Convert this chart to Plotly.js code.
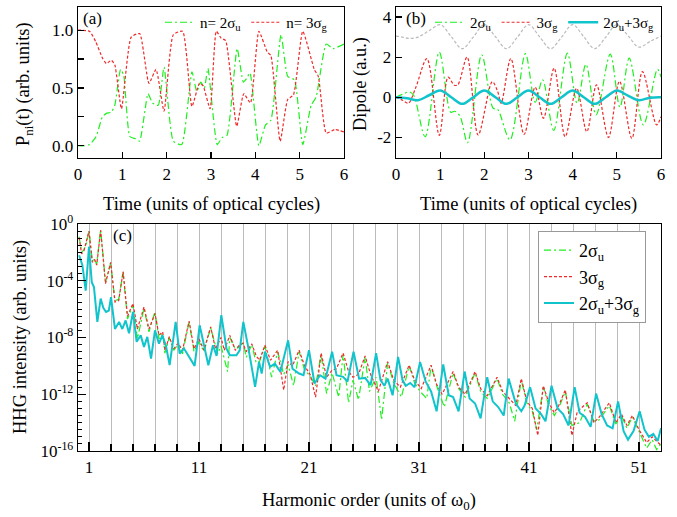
<!DOCTYPE html>
<html><head><meta charset="utf-8">
<script src="https://cdn.plot.ly/plotly-3.0.1.min.js"></script>
<style>html,body{margin:0;padding:0;background:#fff}#chart{width:677px;height:517px}</style>
</head><body><div id="chart"></div>
<script>
// ---------- Panel (a): populations ----------
const tA_2su = [0,0.15,0.26,0.41,0.55,0.64,0.75,0.83,0.96,1.03,1.17,1.3,1.39,1.58,1.68,1.81,1.94,2.15,2.34,2.57,2.68,2.77,2.85,2.93,3.14,3.25,3.36,3.59,3.73,3.8,3.88,4.08,4.23,4.35,4.58,4.73,4.88,5.07,5.26,5.37,5.6,5.75,6.0];
const pA_2su = [0,0,0.01,0.08,0.25,0.28,0.29,0.35,0.66,0.61,0.08,0.06,0.04,0.45,0.37,0.35,0.68,0.04,0.01,0.64,0.47,0.55,0.5,0.67,0.01,0.07,0.09,0.84,0.55,0.58,0.63,0.0,0.18,0.22,0.96,0.6,0.57,0.01,0.35,0.42,0.88,0.84,0.88];
const tA_3sg = [0,0.26,0.4,0.55,0.64,0.75,0.83,0.98,1.2,1.39,1.6,1.76,1.94,2.15,2.36,2.57,2.74,2.82,2.98,3.12,3.23,3.33,3.58,3.74,3.89,4.08,4.27,4.35,4.56,4.73,4.86,5.07,5.33,5.42,5.6,5.79,6.0];
const pA_3sg = [1.0,0.99,0.9,0.76,0.71,0.74,0.7,0.32,0.94,0.97,0.54,0.66,0.3,0.96,0.99,0.34,0.54,0.52,0.32,0.99,0.93,0.91,0.17,0.45,0.37,0.99,0.81,0.78,0.04,0.4,0.44,0.99,0.66,0.6,0.11,0.14,0.12];

// ---------- Panel (b): dipoles ----------
const tB_2su = [0,0.15,0.3,0.4,0.66,0.98,1.24,1.33,1.45,1.62,1.94,2.2,2.3,2.58,2.93,3.15,3.32,3.57,3.88,4.1,4.3,4.53,4.85,5.07,5.28,5.6,5.92,6.0];
const dB_2su = [0,0.15,0.27,0.1,-1.97,2.25,-0.75,-0.7,-0.95,-2.27,2.12,-0.55,-0.6,-2.13,2.17,-0.25,0.87,-1.65,2.2,-0.3,1.65,-0.88,2.15,-0.5,1.95,-1.38,1.4,1.0];
const tB_3sg = [0,0.15,0.28,0.45,0.7,0.98,1.18,1.32,1.4,1.61,1.86,2.18,2.3,2.38,2.6,2.9,3.15,3.34,3.58,3.83,4.09,4.32,4.54,4.81,5.06,5.34,5.58,5.9,6.0];
const dB_3sg = [0,-0.15,-0.3,0.5,1.93,-1.9,1.0,0.6,0.62,2.0,-1.88,0.78,0.3,-0.3,1.93,-1.85,0.5,-1.05,1.45,-1.97,0.45,-1.72,0.62,-2.0,0.8,-2.05,1.28,-1.38,-0.97];
const tB_sum = [0,0.25,0.5,0.75,1.0,1.25,1.5,1.75,2.0,2.25,2.5,2.75,3.0,3.25,3.5,3.75,4.0,4.25,4.5,4.75,5.0,5.25,5.5,5.75,6.0];
const dB_sum = [0,-0.05,-0.15,0.1,0.33,0,-0.33,0,0.33,0,-0.33,0,0.33,0,-0.33,0,0.33,0,-0.33,0,0.33,0.08,-0.15,-0.02,0];
const tB_field = [0,0.15,0.3,0.5,0.75,1.0,1.25,1.5,1.75,2.0,2.25,2.5,2.75,3.0,3.25,3.5,3.75,4.0,4.25,4.5,4.75,5.0,5.25,5.5,5.75,6.0];
const dB_field = [3.05,3.0,2.93,3.0,3.32,3.62,3.02,2.42,3.0,3.62,3.02,2.42,3.0,3.62,3.02,2.42,3.0,3.62,3.02,2.42,3.0,3.62,3.08,2.5,2.78,3.05];

// ---------- Panel (c): HHG spectra (log10 of intensity) ----------
const hC_2su = [0.1,0.33,0.55,0.8,1.0,1.3,1.5,1.7,2.06,2.5,2.97,3.36,3.7,4.1,4.5,5.0,5.4,6.0,6.45,7.0,7.36,7.7,7.9,8.3,8.7,9.1,9.5,10.1,10.55,11.0,11.45,12.06,12.7,13.0,13.6,13.8,14.3,14.6,15.0,15.3,15.8,16.2,16.5,17.0,17.6,18.15,18.7,19.1,19.6,20.1,20.6,21.1,21.6,22.1,22.6,23.1,23.7,24.1,24.6,25.0,25.5,26.1,26.5,27.1,27.6,28.15,28.7,29.4,30.1,30.6,31.1,31.7,32.1,32.6,33.3,34.1,34.6,35.2,36.1,36.6,37.2,38.1,38.6,39.2,39.7,40.3,40.8,41.3,41.7,42.3,42.8,43.3,43.7,44.3,44.9,45.6,46.3,46.9,47.4,48.3,48.9,49.4,49.9,50.4,51.0,51.7,52.2,52.6,53.0];
const lC_2su = [-0.9,-2.0,-1.8,-1.3,-0.45,-2.6,-2.45,-2.85,-0.4,-4.1,-2.75,-5.4,-5.3,-3.4,-6.7,-5.7,-8.1,-5.95,-7.6,-6.2,-8.1,-7.7,-9.1,-8.0,-8.9,-8.5,-9.15,-6.9,-9.0,-8.3,-9.0,-7.3,-9.15,-8.6,-10.4,-8.0,-8.8,-8.7,-8.3,-9.4,-8.5,-9.8,-9.7,-8.6,-10.8,-9.0,-10.6,-9.9,-11.4,-9.0,-10.3,-10.7,-11.4,-9.2,-11.95,-10.5,-12.2,-9.2,-12.6,-11.0,-12.4,-9.4,-11.8,-10.8,-13.8,-9.8,-11.2,-12.2,-10.0,-11.2,-11.8,-12.3,-10.0,-11.4,-12.9,-10.5,-11.6,-12.2,-10.5,-11.8,-12.3,-10.9,-12.0,-12.6,-13.9,-11.0,-12.6,-13.2,-14.5,-11.5,-12.8,-13.5,-13.0,-11.8,-14.2,-14.0,-12.7,-13.9,-13.8,-12.8,-14.1,-13.5,-14.4,-13.6,-14.6,-15.8,-15.2,-15.9,-15.5];
const hC_3sg = [0.1,0.33,0.55,0.8,1.0,1.3,1.5,1.7,2.06,2.5,2.97,3.36,3.7,4.1,4.5,5.0,5.4,6.0,6.45,7.0,7.36,7.7,7.9,8.3,8.7,9.1,9.5,10.1,10.55,11.0,11.45,12.06,12.5,13.0,13.3,13.8,14.3,14.6,15.0,15.3,15.8,16.2,16.5,17.0,17.5,18.15,18.7,19.1,19.5,20.1,20.6,21.1,21.6,22.1,22.6,23.1,23.5,24.1,24.6,25.0,25.5,26.1,26.6,27.3,28.15,28.7,29.3,30.1,30.6,31.2,32.1,32.6,33.1,34.1,34.6,35.2,36.1,36.6,37.2,38.1,38.6,39.2,39.8,40.3,40.8,41.3,41.8,42.3,42.8,43.3,43.7,44.3,44.9,45.4,46.3,46.9,47.4,48.3,48.9,49.4,49.9,50.4,51.0,51.7,52.2,52.6,53.0];
const lC_3sg = [-0.95,-2.1,-1.85,-1.2,-0.5,-2.7,-2.5,-2.9,-0.45,-4.2,-2.7,-5.5,-5.4,-3.35,-6.5,-5.6,-7.4,-5.85,-7.4,-6.3,-7.85,-7.6,-8.9,-7.95,-8.8,-8.4,-8.9,-6.85,-8.8,-8.1,-8.9,-7.25,-8.8,-8.0,-8.9,-7.85,-8.9,-8.6,-8.4,-9.0,-8.45,-9.3,-9.6,-8.55,-9.6,-8.9,-11.7,-9.7,-10.0,-8.9,-10.0,-10.6,-12.2,-9.1,-10.8,-10.3,-10.2,-9.1,-10.4,-10.8,-10.6,-9.3,-10.6,-11.8,-9.7,-11.0,-11.5,-9.95,-11.0,-11.6,-9.95,-11.3,-12.0,-10.4,-11.5,-12.0,-10.4,-11.6,-12.1,-10.8,-11.8,-12.3,-12.8,-10.9,-12.5,-13.0,-14.9,-11.4,-12.6,-13.3,-12.8,-11.7,-14.9,-13.2,-12.6,-14.0,-13.6,-12.6,-14.0,-13.4,-14.2,-13.5,-14.5,-15.4,-15.0,-15.3,-15.6];
const hC_sum = [0.1,0.4,0.7,1.0,1.25,1.45,1.76,2.06,2.3,2.55,2.8,3.0,3.36,3.73,4.03,4.33,4.64,5.0,5.33,5.7,6.0,6.3,6.64,7.0,7.36,7.67,8.0,8.33,8.88,9.24,9.64,10.1,10.6,11.06,11.45,11.85,12.27,12.6,13.03,13.5,13.8,14.4,14.7,15.03,15.5,16.1,16.46,16.7,17.0,17.46,17.9,18.4,19.1,19.5,20.1,20.5,21.0,21.5,22.0,22.5,23.1,23.5,24.1,24.5,25.05,25.55,26.1,26.6,27.1,27.5,27.85,28.15,28.6,29.1,29.5,29.8,30.2,30.6,31.1,31.6,32.1,32.6,33.2,33.7,34.1,34.6,35.15,35.6,36.1,36.6,37.2,37.7,38.2,38.7,39.15,39.8,40.3,40.6,41.1,41.6,42.1,42.5,43.05,43.6,44.1,44.6,45.15,45.6,46.1,46.6,47.1,47.6,48.1,48.6,49.1,49.6,50.0,50.5,51.06,51.5,51.9,52.3,52.7,53.0];
const lC_sum = [-2.2,-2.9,-4.7,-1.6,-4.1,-4.45,-6.9,-5.26,-5.9,-6.2,-6.1,-5.15,-7.4,-6.9,-7.4,-6.8,-7.7,-6.2,-8.3,-7.85,-8.66,-7.96,-9.48,-7.5,-8.43,-7.85,-8.6,-9.95,-6.9,-9.13,-8.78,-9.37,-10.0,-7.14,-8.55,-9.95,-8.55,-9.3,-6.43,-8.78,-9.25,-9.25,-8.9,-6.9,-8.78,-11.48,-9.72,-10.54,-9.0,-10.07,-9.84,-10.42,-8.2,-10.2,-10.54,-10.66,-8.9,-11.24,-10.66,-10.9,-9.0,-10.66,-10.77,-11.1,-9.0,-10.9,-10.85,-11.36,-9.1,-11.0,-11.4,-10.9,-12.07,-9.37,-11.0,-11.4,-11.2,-11.5,-9.72,-11.1,-11.8,-13.2,-9.9,-12.07,-12.2,-13.2,-10.4,-12.3,-12.65,-13.7,-10.8,-12.5,-12.9,-13.5,-10.9,-12.65,-13.2,-12.8,-11.5,-13.0,-13.4,-13.9,-11.4,-13.0,-13.4,-14.2,-11.5,-13.3,-13.6,-14.3,-11.95,-13.4,-14.2,-14.4,-12.5,-14.6,-15.2,-14.6,-13.2,-14.5,-15.0,-14.8,-15.3,-14.4];

const timeTicks = [0,1,2,3,4,5,6];
const popTicks = [0,0.5,1.0];
const popTickText = ['0.0','0.5','1.0'];
const popMinor = [0.25,0.75];
const dipTicks = [-2,0,2,4];
const dipTickText = ['-2','0','2','4'];
const hMajor = [1,11,21,31,41,51];
const hMinor = [3,5,7,9,13,15,17,19,23,25,27,29,33,35,37,39,43,45,47,49,53];
const decadeMajorExp = [0,-4,-8,-12,-16];

// colours/styles
const GREEN = '#1ef01e', RED = '#ee2a2a', CYAN = '#11c4cc', GRAY = '#bbbbbb';
const DASHDOT = '7px,3px,2px,3px', DOT = '3px,2px';
const FONT = 'Liberation Serif';

const pow10 = a => a.map(v => Math.pow(10, v));

const traces = [
  {x:tA_2su, y:pA_2su, xaxis:'x', yaxis:'y', name:'n= 2σ<sub>u</sub>', legend:'legend', mode:'lines',
   line:{color:GREEN, width:1.2, dash:DASHDOT, shape:'spline', smoothing:0.5}},
  {x:tA_3sg, y:pA_3sg, xaxis:'x', yaxis:'y', name:'n= 3σ<sub>g</sub>', legend:'legend', mode:'lines',
   line:{color:RED, width:1.2, dash:DOT, shape:'spline', smoothing:0.5}},
  {x:tB_field, y:dB_field, xaxis:'x2', yaxis:'y2', showlegend:false, mode:'lines',
   line:{color:GRAY, width:1.2, dash:DOT, shape:'spline', smoothing:1}},
  {x:tB_2su, y:dB_2su, xaxis:'x2', yaxis:'y2', name:'2σ<sub>u</sub>', legend:'legend2', mode:'lines',
   line:{color:GREEN, width:1.2, dash:DASHDOT, shape:'spline', smoothing:0.9}},
  {x:tB_3sg, y:dB_3sg, xaxis:'x2', yaxis:'y2', name:'3σ<sub>g</sub>', legend:'legend2', mode:'lines',
   line:{color:RED, width:1.2, dash:DOT, shape:'spline', smoothing:0.9}},
  {x:tB_sum, y:dB_sum, xaxis:'x2', yaxis:'y2', name:'2σ<sub>u</sub>+3σ<sub>g</sub>', legend:'legend2', mode:'lines',
   line:{color:CYAN, width:2.5, shape:'spline', smoothing:1}},
  {x:hC_2su, y:pow10(lC_2su), xaxis:'x3', yaxis:'y3', name:'2σ<sub>u</sub>', legend:'legend3', mode:'lines',
   line:{color:GREEN, width:1.2, dash:DASHDOT}},
  {x:hC_3sg, y:pow10(lC_3sg), xaxis:'x3', yaxis:'y3', name:'3σ<sub>g</sub>', legend:'legend3', mode:'lines',
   line:{color:RED, width:1.2, dash:DOT}},
  {x:hC_sum, y:pow10(lC_sum), xaxis:'x3', yaxis:'y3', name:'2σ<sub>u</sub>+3σ<sub>g</sub>', legend:'legend3', mode:'lines',
   line:{color:CYAN, width:2}}
];

const W = 677, H = 517;
const px = v => v / W;
const py = v => (H - v) / H;

const axBase = {showline:true, linecolor:'#000', linewidth:1.3, mirror:true, ticks:'inside', tickcolor:'#000',
  ticklen:6, tickwidth:1.2, zeroline:false, showgrid:false, tickfont:{family:FONT, size:17, color:'#000'}};

const layout = {
  width:W, height:H, margin:{l:0, r:0, t:0, b:0}, paper_bgcolor:'#fff', plot_bgcolor:'#fff',
  font:{family:FONT, size:17, color:'#000'},
  xaxis: Object.assign({}, axBase, {domain:[px(78), px(344)], range:[0,6], tickmode:'array', tickvals:timeTicks, anchor:'y'}),
  yaxis: Object.assign({}, axBase, {domain:[py(158), py(7)], range:[-0.106, 1.2], tickmode:'array', tickvals:popTicks, ticktext:popTickText, anchor:'x',
     minor:{tickmode:'array', tickvals:popMinor, ticks:'inside', ticklen:6, tickcolor:'#000', tickwidth:1.2}}),
  xaxis2: Object.assign({}, axBase, {domain:[px(396), px(661)], range:[0,6], tickmode:'array', tickvals:timeTicks, anchor:'y2'}),
  yaxis2: Object.assign({}, axBase, {domain:[py(158), py(7)], range:[-3.03, 4.5], tickmode:'array', tickvals:dipTicks, ticktext:dipTickText, anchor:'x2'}),
  xaxis3: Object.assign({}, axBase, {domain:[px(78), px(661)], range:[0,53], tickmode:'array', tickvals:hMajor, ticktext:hMajor.map(String),
     ticklen:9, showgrid:true, gridcolor:'#bbbbbb', gridwidth:1, anchor:'y3',
     minor:{tickmode:'array', tickvals:hMinor, ticks:'inside', ticklen:7, tickcolor:'#000', tickwidth:1.2, showgrid:true, gridcolor:'#bbbbbb', gridwidth:1}}),
  yaxis3: Object.assign({}, axBase, {type:'log', domain:[py(451), py(224)], range:[-16, 0], tickmode:'array',
     tickvals:decadeMajorExp.map(e => Math.pow(10, e)), ticktext:decadeMajorExp.map(e => '10<sup>' + (e === 0 ? '0' : '-' + (-e)) + '</sup>'),
     ticklen:8, anchor:'x3',
     minor:{tickmode:'array', tickvals:Array.from({length:33}, (_, k) => Math.pow(10, -k/2)), ticks:'inside', ticklen:4, tickcolor:'#000', tickwidth:1}}),
  legend:{x:px(160), y:py(6), xanchor:'left', yanchor:'top', orientation:'h', bgcolor:'rgba(0,0,0,0)', borderwidth:0,
     font:{family:FONT, size:15}, itemwidth:30},
  legend2:{x:px(430), y:py(6), xanchor:'left', yanchor:'top', orientation:'h', bgcolor:'rgba(0,0,0,0)', borderwidth:0,
     font:{family:FONT, size:15}, itemwidth:30},
  legend3:{x:px(538), y:py(231), xanchor:'left', yanchor:'top', orientation:'v', bgcolor:'#fff', bordercolor:'#999', borderwidth:1,
     font:{family:FONT, size:18}},
  annotations:[
    {text:'(a)', x:px(81), y:py(18), xref:'paper', yref:'paper', xanchor:'left', yanchor:'middle', showarrow:false, font:{family:FONT, size:17}},
    {text:'(b)', x:px(404), y:py(18), xref:'paper', yref:'paper', xanchor:'left', yanchor:'middle', showarrow:false, font:{family:FONT, size:17}},
    {text:'(c)', x:px(111), y:py(235), xref:'paper', yref:'paper', xanchor:'left', yanchor:'middle', showarrow:false, font:{family:FONT, size:17}},
    {text:'Time (units of optical cycles)', x:px(211), y:py(205), xref:'paper', yref:'paper', xanchor:'center', yanchor:'middle', showarrow:false, font:{family:FONT, size:18.5}},
    {text:'Time (units of optical cycles)', x:px(528), y:py(205), xref:'paper', yref:'paper', xanchor:'center', yanchor:'middle', showarrow:false, font:{family:FONT, size:18.5}},
    {text:'P<sub>ni</sub>(t) (arb. units)', x:px(25), y:py(84), xref:'paper', yref:'paper', xanchor:'center', yanchor:'middle', textangle:-90, showarrow:false, font:{family:FONT, size:18.5}},
    {text:'Dipole (a.u.)', x:px(361), y:py(84), xref:'paper', yref:'paper', xanchor:'center', yanchor:'middle', textangle:-90, showarrow:false, font:{family:FONT, size:18.5}},
    {text:'HHG intensity (arb. units)', x:px(20), y:py(337), xref:'paper', yref:'paper', xanchor:'center', yanchor:'middle', textangle:-90, showarrow:false, font:{family:FONT, size:18.5}},
    {text:'Harmonic order (units of ω<sub>0</sub>)', x:px(369), y:py(501), xref:'paper', yref:'paper', xanchor:'center', yanchor:'middle', showarrow:false, font:{family:FONT, size:18.5}}
  ]
};

Plotly.newPlot('chart', traces, layout, {displayModeBar:false, staticPlot:true});
</script></body></html>
